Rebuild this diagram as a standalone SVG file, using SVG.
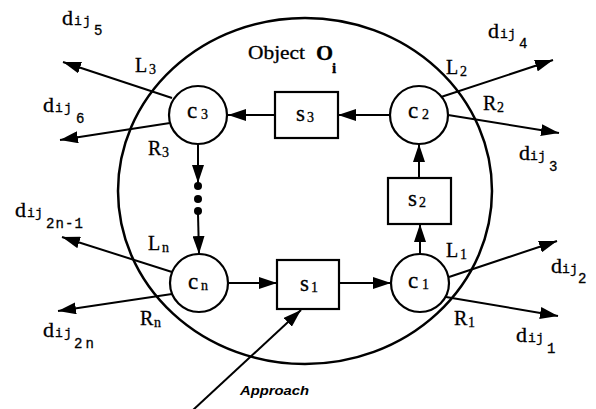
<svg xmlns="http://www.w3.org/2000/svg" width="596" height="409" viewBox="0 0 596 409">
<defs>
<style>
.ln{stroke:#000;stroke-width:2;fill:none}
.arr{stroke:#000;stroke-width:2;fill:none;marker-end:url(#ah)}
.nd{stroke:#000;stroke-width:2.2;fill:#fff}
.big{stroke:#000;stroke-width:2.5;fill:none}
.t{font-family:"Liberation Serif","Times New Roman",serif;fill:#000;stroke:#000;stroke-width:0.3}
.nl{font-size:23px}
.ns{font-size:14px}
.lr{font-size:20px}
.ls{font-size:14px}
.d{font-family:"Liberation Serif",serif;font-size:22px}
.ij{font-family:"Liberation Mono",monospace;font-size:13px}
.sb{font-family:"Liberation Mono",monospace;font-size:14px}
</style>
<marker id="ah" viewBox="0 0 18 12" refX="18" refY="6" markerWidth="18" markerHeight="12" orient="auto" markerUnits="userSpaceOnUse">
<path d="M0,0 L18,6 L0,12 z" fill="#000"/>
</marker>
</defs>
<rect width="596" height="409" fill="#fff"/>

<g id="object">
<ellipse class="big" cx="305" cy="191" rx="187" ry="173"/>
<text class="t" x="248" y="59" font-size="19" textLength="57" lengthAdjust="spacingAndGlyphs">Object</text>
<text class="t" x="316" y="60" font-size="22" font-weight="bold">O<tspan x="332" y="73" font-size="15">i</tspan></text>
</g>

<g id="connectors">
<line class="arr" x1="275" y1="115" x2="228" y2="115"/>
<line class="arr" x1="390" y1="115" x2="338" y2="115"/>
<line class="arr" x1="419" y1="178" x2="419" y2="144"/>
<line class="arr" x1="420" y1="254" x2="420" y2="224"/>
<line class="arr" x1="339" y1="283" x2="391" y2="283"/>
<line class="arr" x1="228" y1="283" x2="277" y2="283"/>
<line class="arr" x1="198" y1="144" x2="198" y2="183"/>
<line class="arr" x1="198" y1="214" x2="199" y2="254"/>
<circle cx="198" cy="186" r="4" fill="#000"/>
<circle cx="198" cy="199" r="4" fill="#000"/>
<circle cx="198" cy="211" r="4" fill="#000"/>
<line class="arr" x1="172" y1="98" x2="63" y2="62"/>
<line class="arr" x1="170" y1="123" x2="60" y2="140"/>
<line class="arr" x1="441" y1="97" x2="553" y2="60"/>
<line class="arr" x1="448" y1="115" x2="559" y2="133"/>
<line class="arr" x1="449" y1="277" x2="557" y2="241"/>
<line class="arr" x1="446" y1="297" x2="558" y2="316"/>
<line class="arr" x1="172" y1="272" x2="62" y2="237"/>
<line class="arr" x1="172" y1="294" x2="58" y2="311"/>
<line class="arr" x1="193" y1="410" x2="301" y2="310"/>
</g>

<g id="c3">
<circle class="nd" cx="198" cy="115" r="29"/>
<text class="t nl" x="187" y="118">c<tspan class="ns" x="201" y="119">3</tspan></text>
</g>
<g id="c2">
<circle class="nd" cx="419" cy="115" r="29"/>
<text class="t nl" x="408" y="118">c<tspan class="ns" x="422" y="119">2</tspan></text>
</g>
<g id="c1">
<circle class="nd" cx="420" cy="283" r="29"/>
<text class="t nl" x="408" y="288">c<tspan class="ns" x="422" y="289">1</tspan></text>
</g>
<g id="cn">
<circle class="nd" cx="199" cy="283" r="29"/>
<text class="t nl" x="188" y="289">c<tspan class="ns" x="201" y="290">n</tspan></text>
</g>

<g id="s3">
<rect class="nd" x="275" y="92" width="63" height="46"/>
<text class="t nl" x="296" y="121">s<tspan class="ns" x="307" y="122">3</tspan></text>
</g>
<g id="s2">
<rect class="nd" x="388" y="178" width="63" height="46"/>
<text class="t nl" x="408" y="206">s<tspan class="ns" x="419" y="207">2</tspan></text>
</g>
<g id="s1">
<rect class="nd" x="277" y="260" width="62" height="49"/>
<text class="t nl" x="300" y="291">s<tspan class="ns" x="311" y="292">1</tspan></text>
</g>

<g id="labels">
<text class="t lr" x="135" y="72">L<tspan class="ls" x="149" y="74">3</tspan></text>
<text class="t lr" x="148" y="155">R<tspan class="ls" x="162" y="157">3</tspan></text>
<text class="t lr" x="446" y="74">L<tspan class="ls" x="460" y="76">2</tspan></text>
<text class="t lr" x="483" y="110">R<tspan class="ls" x="497" y="112">2</tspan></text>
<text class="t lr" x="446" y="257">L<tspan class="ls" x="460" y="259">1</tspan></text>
<text class="t lr" x="454" y="325">R<tspan class="ls" x="468" y="327">1</tspan></text>
<text class="t lr" x="148" y="250">L<tspan class="ls" x="162" y="252">n</tspan></text>
<text class="t lr" x="140" y="325">R<tspan class="ls" x="154" y="327">n</tspan></text>

<text class="t d" x="62" y="25">d<tspan class="ij" x="74">i</tspan><tspan class="ij" x="83">j</tspan><tspan class="sb" x="94" y="35">5</tspan></text>
<text class="t d" x="43" y="112">d<tspan class="ij" x="55">i</tspan><tspan class="ij" x="64">j</tspan><tspan class="sb" x="76" y="123">6</tspan></text>
<text class="t d" x="488" y="38">d<tspan class="ij" x="500">i</tspan><tspan class="ij" x="508">j</tspan><tspan class="sb" x="519" y="48">4</tspan></text>
<text class="t d" x="519" y="160">d<tspan class="ij" x="530">i</tspan><tspan class="ij" x="538">j</tspan><tspan class="sb" x="549" y="171">3</tspan></text>
<text class="t d" x="551" y="273">d<tspan class="ij" x="562">i</tspan><tspan class="ij" x="570">j</tspan><tspan class="sb" x="578" y="283">2</tspan></text>
<text class="t d" x="516" y="342">d<tspan class="ij" x="528">i</tspan><tspan class="ij" x="536">j</tspan><tspan class="sb" x="547" y="353">1</tspan></text>
<text class="t d" x="15" y="217">d<tspan class="ij" x="27">i</tspan><tspan class="ij" x="35">j</tspan><tspan class="sb" x="46" y="228" textLength="37">2n-1</tspan></text>
<text class="t d" x="43" y="337">d<tspan class="ij" x="55">i</tspan><tspan class="ij" x="64">j</tspan><tspan class="sb" x="74" y="348" textLength="20">2n</tspan></text>

<text x="240" y="395" font-family="Liberation Sans, Arial, sans-serif" font-size="12" font-style="italic" font-weight="bold" textLength="69" lengthAdjust="spacingAndGlyphs">Approach</text>
</g>
</svg>
